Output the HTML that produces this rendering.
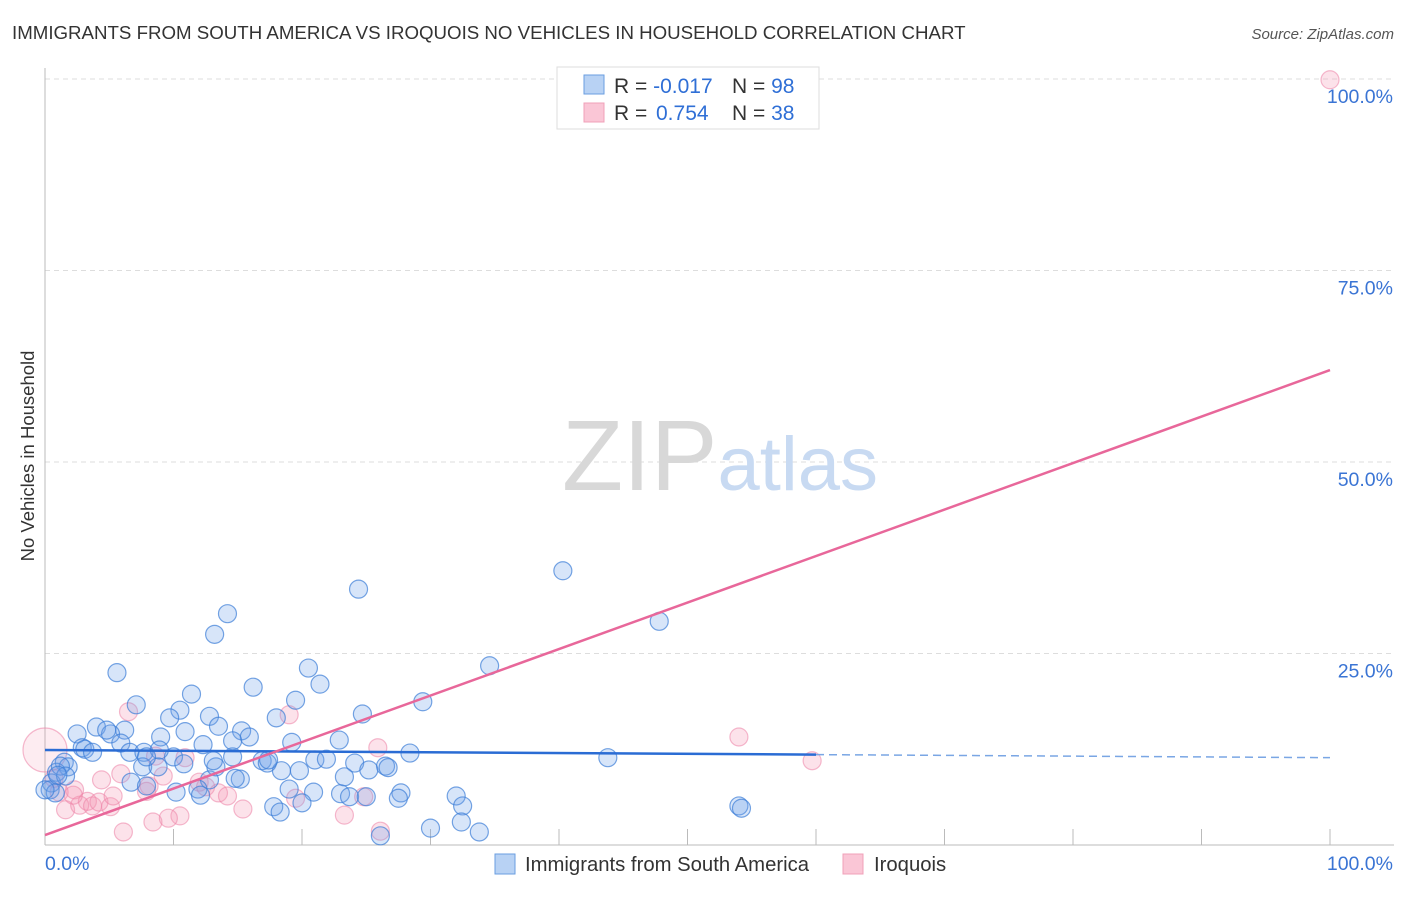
<!DOCTYPE html>
<html><head><meta charset="utf-8"><style>
body{margin:0;background:#fff;font-family:"Liberation Sans",sans-serif;}
svg text{font-family:"Liberation Sans",sans-serif;}
</style></head><body>
<svg id="chart" width="1406" height="892">
<text x="12" y="39" font-size="18.7" fill="#333">IMMIGRANTS FROM SOUTH AMERICA VS IROQUOIS NO VEHICLES IN HOUSEHOLD CORRELATION CHART</text>
<text x="1394" y="39" font-size="15" fill="#555" text-anchor="end" font-style="italic">Source: ZipAtlas.com</text>
<text x="0" y="0" transform="translate(34,456) rotate(-90)" font-size="18.5" fill="#333" text-anchor="middle">No Vehicles in Household</text>
<g id="grid"></g>
<text x="720" y="490" font-size="100" fill="#ddd" text-anchor="middle" font-family="Liberation Serif"><tspan fill="#d8d8d8">ZIP</tspan><tspan fill="#c8daf2" font-family="Liberation Sans" font-size="76">atlas</tspan></text>
<g id="marks"></g>
<g>
<rect x="557" y="67" width="262" height="62" fill="#fff" stroke="#ddd"/>
<rect x="584" y="75" width="20" height="19" fill="#b8d2f4" stroke="#6a9ee0"/>
<rect x="584" y="103" width="20" height="19" fill="#fac6d6" stroke="#f0a0b8"/>
<text x="614" y="93" font-size="21" fill="#333">R = <tspan fill="#2f6fd6">-0.017</tspan></text>
<text x="732" y="93" font-size="21" fill="#333">N = <tspan fill="#2f6fd6">98</tspan></text>
<text x="614" y="120" font-size="21" fill="#333">R = <tspan fill="#2f6fd6" x="656">0.754</tspan></text>
<text x="732" y="120" font-size="21" fill="#333">N = <tspan fill="#2f6fd6">38</tspan></text>
</g>
<g>
<rect x="495" y="854" width="20" height="20" fill="#b8d2f4" stroke="#6a9ee0"/>
<text x="525" y="871" font-size="20.3" fill="#333">Immigrants from South America</text>
<rect x="843" y="854" width="20" height="20" fill="#fac6d6" stroke="#f0a0b8"/>
<text x="874" y="871" font-size="20.3" fill="#333">Iroquois</text>
</g>
</svg>
<script>
const yTicks=[25,50,75,100];
const yTickLabels=["25.0%","50.0%","75.0%","100.0%"];
const xTicks=[0,10,20,30,40,50,60,70,80,90,100];
const blueX=[40.3,47.8,24.4,14.2,13.2,5.6,20.5,34.6,16.2,21.4,11.4,19.5,7.1,29.4,10.5,9.7,12.8,18.0,24.7,4.0,6.2,2.5,2.9,5.1,13.5,15.3,10.9,9.0,15.9,19.2,22.9,5.9,3.1,3.7,6.6,10.0,7.7,28.4,43.8,14.6,16.9,21.0,21.9,24.1,26.5,25.2,26.7,1.5,1.8,0.9,0.5,0.4,0.8,1.2,7.6,8.8,18.4,15.2,12.8,6.7,7.9,14.8,11.9,12.1,10.2,19.0,20.9,23.0,23.7,27.7,27.5,32.0,32.5,17.8,18.3,20.0,54.0,54.2,30.0,32.4,33.8,26.1,25.0,19.8,17.3,10.8,13.3,4.8,8.9,7.9,1.6,0.0,1.0,14.6,23.3,12.3,13.1,17.4];
const blueY=[35.8,29.2,33.4,30.2,27.5,22.5,23.1,23.4,20.6,21.0,19.7,18.9,18.3,18.7,17.6,16.6,16.8,16.6,17.1,15.4,15.0,14.5,12.7,14.5,15.5,14.9,14.8,14.1,14.1,13.4,13.7,13.3,12.5,12.1,12.1,11.5,12.1,12.0,11.4,11.5,11.0,11.1,11.2,10.7,10.3,9.8,10.1,10.8,10.2,9.5,8.1,7.2,6.8,10.3,10.2,10.2,9.7,8.6,8.5,8.2,7.7,8.7,7.3,6.5,6.9,7.3,6.9,6.7,6.3,6.8,6.1,6.4,5.1,5.0,4.3,5.5,5.1,4.8,2.2,3.0,1.7,1.2,6.3,9.7,10.7,10.6,10.2,15.0,12.4,11.5,9.0,7.2,9.1,13.6,8.9,13.1,11.0,11.1];
const pinkX=[100,0,54.0,59.7,19.0,6.5,25.9,8.6,10.9,9.2,12.0,8.1,12.5,5.9,4.4,3.3,2.3,1.1,1.6,2.7,3.7,4.2,5.1,0.7,13.5,14.2,15.4,5.3,7.9,19.5,24.8,8.4,10.5,9.6,6.1,23.3,26.1,2.2];
const pinkY=[99.9,12.4,14.1,11.0,17.0,17.4,12.7,11.6,11.4,9.0,8.2,7.7,7.6,9.3,8.5,5.7,7.2,6.9,4.6,5.2,5.1,5.6,5.0,8.7,6.8,6.4,4.7,6.4,7.0,6.1,6.3,3.0,3.8,3.5,1.7,3.9,1.8,6.5];
const blueTrend=[12.4,11.8,11.4];
const pinkTrend=[1.3,62.0];
const NS="http://www.w3.org/2000/svg";
const X=v=>45+v*12.85, Y=v=>845-v*7.66;
function mk(t,a,p){const e=document.createElementNS(NS,t);for(const k in a)e.setAttribute(k,a[k]);p.appendChild(e);return e;}
const grid=document.getElementById('grid'),marks=document.getElementById('marks');
yTicks.forEach((t,i)=>{
 const l=mk('line',{x1:45,x2:1394,y1:Y(t),y2:Y(t),stroke:'#ddd','stroke-dasharray':'5,4'},grid);
 
 
 const tx=mk('text',{x:1393,y:Y(t)+24,'font-size':19.5,fill:'#3a74d4','text-anchor':'end'},grid);
 tx.textContent=yTickLabels[i];
 
 
});
const ax=mk('line',{x1:45,x2:45,y1:68,y2:845,stroke:'#bbb'},grid);


const bx=mk('line',{x1:45,x2:1394,y1:845,y2:845,stroke:'#bbb'},grid);


xTicks.forEach(t=>{const l=mk('line',{x1:X(t),x2:X(t),y1:829,y2:845,stroke:'#bbb'},grid);
 
 });
const xl0=mk('text',{x:45,y:870,'font-size':19.5,fill:'#3a74d4'},grid);xl0.textContent='0.0%';


const xl1=mk('text',{x:1393,y:870,'font-size':19.5,fill:'#3a74d4','text-anchor':'end'},grid);xl1.textContent='100.0%';


pinkX.forEach((x,i)=>{const c=mk('circle',{cx:X(x),cy:Y(pinkY[i]),r:(i==1?22:9),fill:(i==1?'rgba(244,150,180,0.18)':'rgba(244,150,180,0.28)'),stroke:'rgba(236,130,165,0.55)','stroke-width':1.2},marks);
 
 });
blueX.forEach((x,i)=>{const c=mk('circle',{cx:X(x),cy:Y(blueY[i]),r:9,fill:'rgba(110,160,232,0.28)',stroke:'rgba(60,125,215,0.7)','stroke-width':1.2},marks);
 
 });
const bl=mk('line',{x1:X(0),y1:Y(blueTrend[0]),x2:X(60),y2:Y(blueTrend[1]),stroke:'#2a6cd4','stroke-width':2.5},marks);


const bd=mk('line',{x1:X(60),y1:Y(blueTrend[1]),x2:X(100),y2:Y(blueTrend[2]),stroke:'#7aa6e4','stroke-width':1.5,'stroke-dasharray':'8,5'},marks);


const pl=mk('line',{x1:X(0),y1:Y(pinkTrend[0]),x2:X(100),y2:Y(pinkTrend[1]),stroke:'#e8679a','stroke-width':2.5},marks);


</script>
</body></html>
